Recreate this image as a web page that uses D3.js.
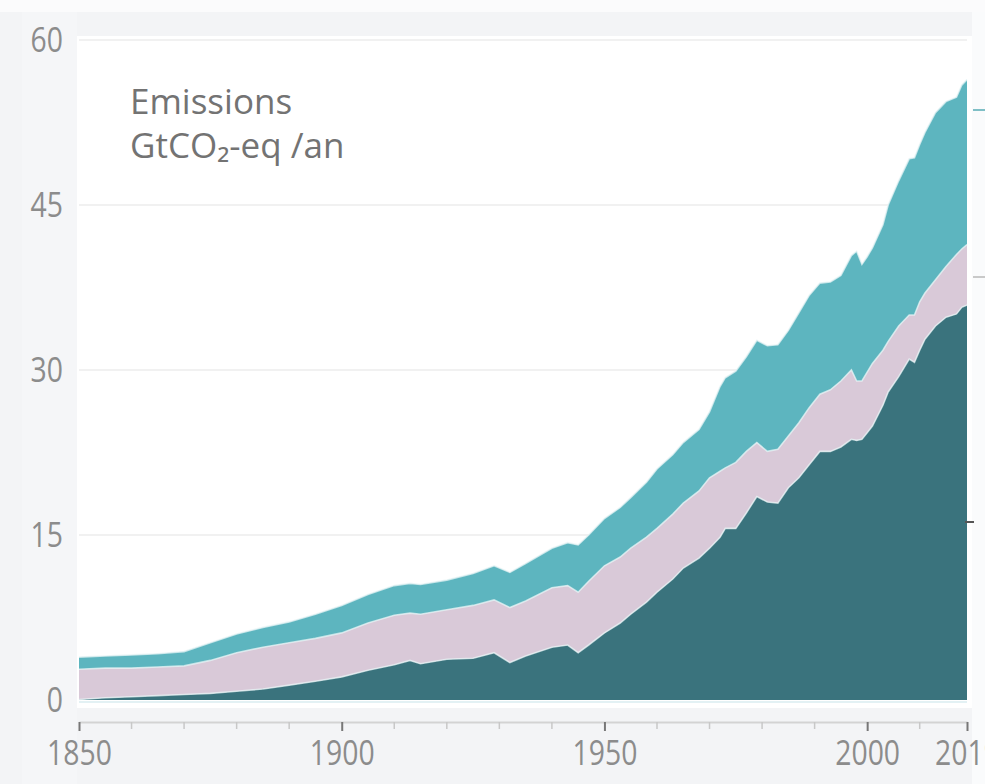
<!DOCTYPE html>
<html>
<head>
<meta charset="utf-8">
<script src="https://cdn.jsdelivr.net/npm/d3@7"></script>
<style>
  html, body { margin: 0; padding: 0; background: #f3f4f6; }
  svg { display: block; }
</style>
</head>
<body>
<svg id="chart" width="985" height="784"></svg>
<script>
// ---- data (GtCO2-eq / an) ----
const years = [1850,1855,1860,1865,1870,1875,1880,1885,1890,1895,1900,1905,1910,1913,1915,1920,1925,1929,1932,1935,1940,1943,1945,1947,1950,1953,1955,1958,1960,1963,1965,1968,1970,1972,1973,1975,1977,1979,1981,1983,1985,1987,1989,1991,1993,1995,1997,1998,1999,2000,2001,2003,2004,2006,2008,2009,2010,2011,2013,2015,2017,2018,2019];
// bottom layer: CO2 fossil fuels & industry
const co2Fossil = [0.05,0.2,0.3,0.4,0.5,0.6,0.8,1.0,1.35,1.7,2.1,2.7,3.2,3.6,3.3,3.7,3.8,4.3,3.4,4.0,4.8,5.0,4.3,5.0,6.1,7.0,7.8,8.9,9.8,11.0,12.0,12.9,13.8,14.8,15.6,15.6,17.0,18.5,18.0,17.9,19.3,20.2,21.4,22.6,22.6,23.0,23.7,23.6,23.7,24.3,24.9,26.8,28.0,29.4,31.0,30.7,31.8,32.8,34.0,34.8,35.1,35.7,35.9];
// middle layer: CO2 land use
const co2Land = [2.75,2.7,2.6,2.6,2.6,3.0,3.5,3.8,3.85,3.9,4.0,4.3,4.5,4.3,4.5,4.5,4.8,4.8,5.0,5.0,5.4,5.4,5.5,5.8,6.1,6.0,6.0,5.9,5.8,5.9,5.9,6.1,6.4,6.0,5.5,6.0,5.6,4.9,4.6,4.9,4.7,5.0,5.2,5.2,5.6,6.0,6.3,5.4,5.3,5.5,5.7,5.0,4.6,4.6,4.0,4.3,4.4,4.2,4.2,4.6,5.4,5.3,5.5];
// top layer: other greenhouse gases
const otherGhg = [1.1,1.1,1.2,1.2,1.3,1.6,1.7,1.8,1.9,2.2,2.5,2.6,2.7,2.7,2.7,2.7,2.9,3.1,3.2,3.4,3.6,3.9,4.3,4.2,4.3,4.5,4.6,5.0,5.4,5.4,5.5,5.6,6.0,7.7,8.2,8.3,8.6,9.3,9.6,9.5,9.6,10.0,10.2,10.1,9.8,9.6,10.4,11.8,10.6,10.5,10.5,11.4,12.4,13.2,14.2,14.3,14.3,14.6,15.2,15.0,14.3,14.9,15.0];

const yTicks = [0, 15, 30, 45, 60];
const xMajorTicks = [1850, 1900, 1950, 2000, 2019];
const xMinorTicks = [1860,1870,1880,1890,1910,1920,1930,1940,1960,1970,1980,1990,2010];
const titleLines = ["Emissions", "GtCO₂-eq /an"];

const seriesKeys = ["fossil", "land", "other"];
const colors = { fossil: "#3a737d", land: "#d9c9d8", other: "#5db5bf" };

// ---- build table ----
const table = years.map((y, i) => ({ year: y, fossil: co2Fossil[i], land: co2Land[i], other: otherGhg[i] }));

const svg = d3.select("#chart");
const W = 985, H = 784;

// backgrounds
svg.append("rect").attr("x", 0).attr("y", 0).attr("width", W).attr("height", H).attr("fill", "#f3f4f6");
svg.append("rect").attr("x", 0).attr("y", 0).attr("width", W).attr("height", 12).attr("fill", "#fbfbfc");
svg.append("rect").attr("x", 22).attr("y", 12).attr("width", 55).attr("height", 772).attr("fill", "#f5f6f8");
svg.append("rect").attr("x", 77).attr("y", 36).attr("width", 895).attr("height", 672).attr("fill", "#ffffff");
svg.append("rect").attr("x", 972).attr("y", 12).attr("width", 13).attr("height", 772).attr("fill", "#fafbfc");

const x = d3.scaleLinear().domain([1850, 2019]).range([79, 967]);
const y = d3.scaleLinear().domain([0, 60]).range([700, 40]);

// gridlines
svg.append("g").selectAll("line").data(yTicks.filter(d => d > 0)).join("line")
  .attr("x1", 79).attr("x2", 967)
  .attr("y1", d => y(d)).attr("y2", d => y(d))
  .attr("stroke", "#ececec").attr("stroke-width", 1.5);

// stacked areas
const stack = d3.stack().keys(seriesKeys);
const layers = stack(table);
const area = d3.area()
  .x(d => x(d.data.year))
  .y0(d => y(d[0]))
  .y1(d => y(d[1]))
  .curve(d3.curveLinear);

svg.append("g").selectAll("path").data(layers).join("path")
  .attr("d", area)
  .attr("fill", d => colors[d.key]);

// light separation lines on top of each layer
const topLine = d3.line().x(d => x(d.data.year)).y(d => y(d[1])).curve(d3.curveLinear);
svg.append("g").selectAll("path").data(layers).join("path")
  .attr("d", topLine)
  .attr("fill", "none")
  .attr("stroke", "#e8f4f6")
  .attr("stroke-opacity", 0.75)
  .attr("stroke-width", 1.6);

// thin light line just under the baseline
svg.append("line").attr("x1", 79).attr("x2", 967).attr("y1", y(0) + 2).attr("y2", y(0) + 2)
  .attr("stroke", "#e3f1f4").attr("stroke-width", 2);

const tickFont = "'Open Sans', 'Noto Sans', sans-serif";
const digitW = 16.2;

// x axis
const axisY = 722;
const xAxis = d3.axisBottom(x).tickValues(xMajorTicks).tickFormat(d3.format("d")).tickSize(9).tickSizeOuter(0);
const gx = svg.append("g").attr("transform", `translate(0,${axisY})`).call(xAxis);
gx.select(".domain").attr("stroke", "#d3d3d3").attr("stroke-width", 2);
gx.selectAll(".tick line").attr("stroke", "#777").attr("stroke-width", 2);
gx.selectAll(".tick text")
  .attr("fill", "#8c8c8c")
  .attr("font-family", tickFont)
  .attr("font-size", 34)
  .attr("dy", "0.72em")
  .attr("y", 19)
  .attr("textLength", d => String(d).length * digitW)
  .attr("lengthAdjust", "spacingAndGlyphs");

svg.append("g").selectAll("line").data(xMinorTicks).join("line")
  .attr("x1", d => x(d)).attr("x2", d => x(d))
  .attr("y1", axisY).attr("y2", axisY + 7)
  .attr("stroke", "#c8c8c8").attr("stroke-width", 1.5);

// y axis labels
const yAxis = d3.axisLeft(y).tickValues(yTicks).tickSize(0).tickPadding(0);
const gy = svg.append("g").attr("transform", "translate(63,0)").call(yAxis);
gy.select(".domain").remove();
gy.selectAll(".tick text")
  .attr("fill", "#8c8c8c")
  .attr("font-family", tickFont)
  .attr("font-size", 34)
  .attr("dy", "0.34em")
  .attr("textLength", d => String(d).length * digitW)
  .attr("lengthAdjust", "spacingAndGlyphs");

// title text (two lines)
svg.append("g").selectAll("text").data(titleLines).join("text")
  .attr("x", 130)
  .attr("y", (d, i) => 114 + i * 44)
  .attr("font-family", "'Open Sans', 'Noto Sans', sans-serif")
  .attr("font-size", 35)
  .attr("fill", "#737373")
  .text(d => d);

// fragments of the neighbouring panel at the right edge
svg.append("line").attr("x1", 973).attr("x2", 985).attr("y1", 110).attr("y2", 110).attr("stroke", "#7fbfc6").attr("stroke-width", 2);
svg.append("line").attr("x1", 973).attr("x2", 985).attr("y1", 277).attr("y2", 277).attr("stroke", "#c9c9c9").attr("stroke-width", 2);
svg.append("line").attr("x1", 965).attr("x2", 974).attr("y1", 522).attr("y2", 522).attr("stroke", "#555").attr("stroke-width", 2);
</script>
</body>
</html>
